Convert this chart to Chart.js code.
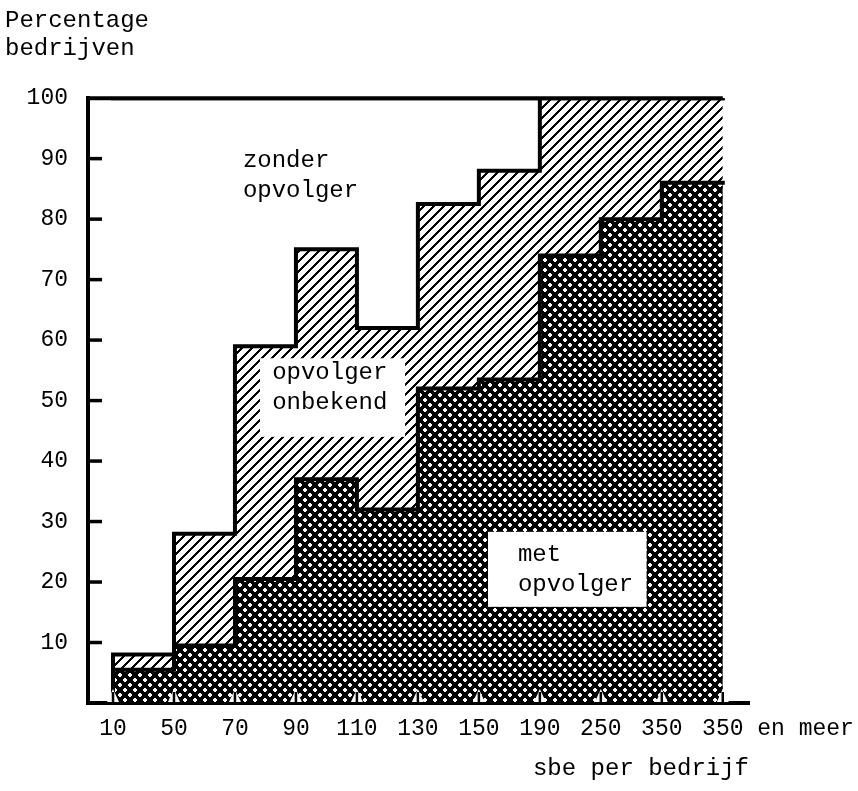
<!DOCTYPE html>
<html>
<head>
<meta charset="utf-8">
<script src="https://cdn.jsdelivr.net/npm/chart.js@4.4.0/dist/chart.umd.min.js"></script>
<style>
  html, body { margin: 0; padding: 0; background: #fff; }
  #wrap { width: 858px; height: 791px; }
</style>
</head>
<body>
<div id="wrap"><canvas id="myChart" width="858" height="791"></canvas></div>
<script>
// klassegrenzen, sbe per bedrijf
var grenzen = ['10', '50', '70', '90', '110', '130', '150', '190', '250', '350', '350 en meer'];
// percentage bedrijven per klasse
var metOpvolger      = [5.5, 9.5, 20.5, 37, 32, 52, 53.5, 74, 80, 86];
var opvolgerOnbekend = [2.5, 18.5, 38.5, 38, 30, 30.5, 34.5, 26, 20, 14];
var zonderOpvolger   = [92, 72, 41, 25, 38, 17.5, 12, 0, 0, 0];
var yWaarden = [0, 10, 20, 30, 40, 50, 60, 70, 80, 90, 100];

var lettertype = "'Liberation Mono', 'Courier New', monospace";
Chart.defaults.font.family = lettertype;
Chart.defaults.color = '#000';

var ctx = document.getElementById('myChart').getContext('2d');

// arcering: enkel schuin (/) of kruis, scherp zwart-wit per pixel
var arcering = function (kruis) {
    var s = 10, w = kruis ? 3.4 : 2.6;
    var c = document.createElement('canvas');
    c.width = s; c.height = s;
    var g = c.getContext('2d');
    var img = g.createImageData(s, s);
    for (var py = 0; py < s; py++) {
        for (var px = 0; px < s; px++) {
            var x = px + 0.5, y = py + 0.5;
            var d1 = (x + y) % s; d1 = Math.min(d1, s - d1) / Math.SQRT2;
            var d = d1;
            if (kruis) {
                var d2 = ((x - y) % s + s) % s; d2 = Math.min(d2, s - d2) / Math.SQRT2;
                d = Math.min(d1, d2);
            }
            var v = d < w / 2 ? 0 : 255;
            var k = (py * s + px) * 4;
            img.data[k] = v; img.data[k + 1] = v; img.data[k + 2] = v; img.data[k + 3] = 255;
        }
    }
    g.putImageData(img, 0, 0);
    return ctx.createPattern(c, 'repeat');
};

// trappenlijn: waarde i geldt van grens i tot grens i+1
var trap = function (waarden, vanafNul) {
    var pts = [];
    if (vanafNul) pts.push({ x: 0, y: 0 });
    waarden.forEach(function (v, i) { pts.push({ x: i, y: v }); });
    pts.push({ x: waarden.length, y: waarden[waarden.length - 1] });
    return pts;
};

var laag = metOpvolger.slice();
var midden = metOpvolger.map(function (v, i) { return v + opvolgerOnbekend[i]; });
var hoog = midden.map(function (v, i) { return v + zonderOpvolger[i]; });

var teksten = [
    { regels: ['zonder', 'opvolger'], x: 2.13, y: 89.7 },
    { regels: ['opvolger', 'onbekend'], x: 2.61, y: 54.7, vak: [2.41, 4.79, 57.0, 44.0] },
    { regels: ['met', 'opvolger'], x: 6.64, y: 24.6, vak: [6.15, 8.75, 28.3, 15.9] }
];

var extraTekening = {
    id: 'extraTekening',
    afterDatasetsDraw: function (chart) {
        var c = chart.ctx, xs = chart.scales.x, ys = chart.scales.y, a = chart.chartArea;
        c.save();
        // witte vakken met tekst
        c.font = '24px ' + lettertype;
        c.textBaseline = 'middle';
        c.textAlign = 'left';
        teksten.forEach(function (t) {
            if (t.vak) {
                c.fillStyle = '#fff';
                var x0 = xs.getPixelForValue(t.vak[0]), x1 = xs.getPixelForValue(t.vak[1]);
                var y0 = ys.getPixelForValue(t.vak[2]), y1 = ys.getPixelForValue(t.vak[3]);
                c.fillRect(x0, y0, x1 - x0, y1 - y0);
            }
            c.fillStyle = '#000';
            t.regels.forEach(function (r, j) {
                c.fillText(r, xs.getPixelForValue(t.x), ys.getPixelForValue(t.y) + j * 30);
            });
        });
        // bovenrand
        c.strokeStyle = '#000';
        c.lineWidth = 4;
        c.beginPath();
        c.moveTo(a.left, ys.getPixelForValue(100));
        c.lineTo(xs.getPixelForValue(grenzen.length - 1), ys.getPixelForValue(100));
        c.stroke();
        // streepjes aan de y-as, naar binnen
        c.lineWidth = 3.5;
        yWaarden.forEach(function (v) {
            if (v === 0 || v === 100) return;
            var y = ys.getPixelForValue(v);
            c.beginPath(); c.moveTo(a.left, y); c.lineTo(a.left + 14, y); c.stroke();
        });
        // pijltjes op de x-as
        grenzen.forEach(function (g, i) {
            var x = xs.getPixelForValue(i);
            c.fillStyle = '#fff';
            c.beginPath();
            c.moveTo(x - 6, a.bottom - 1); c.lineTo(x, a.bottom - 14); c.lineTo(x + 6, a.bottom - 1);
            c.closePath(); c.fill();
            c.lineWidth = 2.5;
            c.beginPath(); c.moveTo(x, a.bottom); c.lineTo(x, a.bottom - 11); c.stroke();
        });
        c.restore();
    }
};

var lijn = { borderColor: '#000', borderWidth: 4, pointRadius: 0, stepped: true,
             borderJoinStyle: 'miter', borderCapStyle: 'square' };

var myChart = new Chart(ctx, {
    type: 'line',
    data: {
        datasets: [
            Object.assign({ label: 'met opvolger', data: trap(laag, true),
                backgroundColor: arcering(true), fill: 'origin' }, lijn),
            Object.assign({ label: 'opvolger onbekend', data: trap(midden, true),
                backgroundColor: arcering(false), fill: 'origin' }, lijn),
            Object.assign({ label: 'zonder opvolger', data: trap(hoog, false),
                fill: false }, lijn)
        ]
    },
    options: {
        responsive: false,
        animation: false,
        layout: { padding: { left: 5, right: 109, top: 0, bottom: 0 } },
        plugins: {
            legend: { display: false },
            tooltip: { enabled: false },
            title: {
                display: true,
                text: ['Percentage', 'bedrijven'],
                align: 'start',
                color: '#000',
                font: { size: 24, weight: 'normal', lineHeight: 1.17 },
                padding: { top: 7, bottom: 35 }
            }
        },
        scales: {
            x: {
                type: 'linear',
                min: -0.41,
                max: 10.43,
                afterFit: function (s) { s.height = 88; s.paddingLeft = 0; s.paddingRight = 0; },
                afterBuildTicks: function (s) {
                    s.ticks = grenzen.map(function (g, i) { return { value: i }; });
                },
                grid: { display: false, drawTicks: false },
                border: { display: true, color: '#000', width: 4 },
                ticks: {
                    autoSkip: false,
                    maxRotation: 0,
                    minRotation: 0,
                    padding: 12,
                    font: { size: 23 },
                    callback: function (v, i) {
                        var t = grenzen[i];
                        var kop = t.split(' ')[0];
                        if (kop.length < t.length) t = ' '.repeat(t.length - kop.length) + t;
                        return t;
                    }
                },
                title: {
                    display: true,
                    text: 'sbe per bedrijf',
                    align: 'end',
                    font: { size: 24 },
                    padding: { top: 0, bottom: 8 }
                }
            },
            y: {
                min: 0,
                max: 100,
                afterFit: function (s) { s.width = 83; },
                afterBuildTicks: function (s) {
                    s.ticks = yWaarden.map(function (v) { return { value: v }; });
                },
                grid: { display: false, drawTicks: false },
                border: { display: true, color: '#000', width: 4 },
                ticks: {
                    padding: 20,
                    font: { size: 23 },
                    callback: function (v) { return v === 0 ? '' : v; }
                }
            }
        }
    },
    plugins: [extraTekening]
});
</script>
</body>
</html>
